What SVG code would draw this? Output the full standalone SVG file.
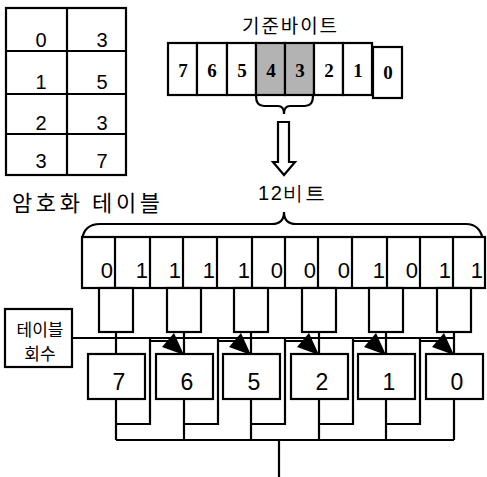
<svg xmlns="http://www.w3.org/2000/svg" width="487" height="477" viewBox="0 0 487 477">
<style>
.bx{fill:#fff;stroke:#000;stroke-width:2.2}
.sh{fill:#b3b3b3;stroke:#000;stroke-width:2.2}
.ln{fill:none;stroke:#000;stroke-width:2.2}
.ko{font-family:"Noto Sans CJK KR","Noto Sans",sans-serif;fill:#000}
.ar{font-family:"Liberation Sans",Arial,sans-serif;fill:#000}
.sf{font-family:"Liberation Serif","Times New Roman",serif;font-weight:bold;fill:#000;font-size:19px;text-anchor:middle}
</style>
<rect width="487" height="477" fill="#fff"/>

<g id="cipher-table">
<rect class="bx" x="6" y="8" width="120" height="167"/>
<line class="ln" x1="67" y1="8" x2="67" y2="175"/>
<line class="ln" x1="6" y1="51" x2="126" y2="51"/>
<line class="ln" x1="6" y1="94" x2="126" y2="94"/>
<line class="ln" x1="6" y1="134" x2="126" y2="134"/>
<g class="ar" font-size="20" text-anchor="middle">
<text x="41" y="47">0</text><text x="102" y="47">3</text>
<text x="41" y="89">1</text><text x="102" y="89">5</text>
<text x="41" y="130">2</text><text x="102" y="130">3</text>
<text x="41" y="168">3</text><text x="102" y="168">7</text>
</g>
<text class="ko" x="12" y="211" font-size="22" textLength="148" lengthAdjust="spacing">암호화 테이블</text>
</g>

<g id="base-byte">
<text class="ko" x="242" y="33" font-size="19" textLength="95" lengthAdjust="spacing">기준바이트</text>
<rect class="bx" x="168" y="43" width="29" height="52"/>
<rect class="bx" x="197" y="43" width="30" height="52"/>
<rect class="bx" x="227" y="43" width="29" height="52"/>
<rect class="sh" x="256" y="43" width="29" height="52"/>
<rect class="sh" x="285" y="43" width="29" height="52"/>
<rect class="bx" x="314" y="43" width="29" height="52"/>
<rect class="bx" x="343" y="43" width="29" height="52"/>
<rect class="bx" x="373" y="47" width="29" height="51"/>
<text class="sf" x="183" y="77">7</text>
<text class="sf" x="212" y="77">6</text>
<text class="sf" x="242" y="77">5</text>
<text class="sf" x="271" y="77">4</text>
<text class="sf" x="300" y="77">3</text>
<text class="sf" x="329" y="77">2</text>
<text class="sf" x="358" y="77">1</text>
<text class="sf" x="388" y="79">0</text>
<path class="ln" d="M256,96 Q256,106 264,106 L278,106 Q284,106 284,114 Q284,106 290,106 L305,106 Q313,106 313,96"/>
<path class="ln" d="M278,122 L289,122 L289,162 L295,162 L284,175 L273,162 L278,162 Z"/>
</g>

<g id="bits-12">
<text class="ar" x="258" y="200" font-size="20" textLength="67" lengthAdjust="spacing">12비트</text>
<path class="ln" d="M82,240 Q84,224 100,224 L272,224 Q284,224 284,212 Q284,224 296,224 L466,224 Q480,224 483,240"/>
<rect class="bx" x="82" y="237" width="403" height="51"/>
<g class="ln">
<line x1="115" y1="237" x2="115" y2="288"/><line x1="150" y1="237" x2="150" y2="288"/>
<line x1="183" y1="237" x2="183" y2="288"/><line x1="217" y1="237" x2="217" y2="288"/>
<line x1="252" y1="237" x2="252" y2="288"/><line x1="285" y1="237" x2="285" y2="288"/>
<line x1="318" y1="237" x2="318" y2="288"/><line x1="352" y1="237" x2="352" y2="288"/>
<line x1="387" y1="237" x2="387" y2="288"/><line x1="420" y1="237" x2="420" y2="288"/>
<line x1="453" y1="237" x2="453" y2="288"/>
</g>
<g class="ar" font-size="22" text-anchor="end">
<text x="113" y="278">0</text><text x="148" y="278">1</text><text x="181" y="278">1</text>
<text x="215" y="278">1</text><text x="250" y="278">1</text><text x="283" y="278">0</text>
<text x="316" y="278">0</text><text x="350" y="278">0</text><text x="385" y="278">1</text>
<text x="418" y="278">0</text><text x="451" y="278">1</text><text x="483" y="278">1</text>
</g>
</g>

<g id="selectors">
<rect class="bx" x="99" y="288" width="34" height="44"/>
<rect class="bx" x="167" y="288" width="34" height="44"/>
<rect class="bx" x="234" y="288" width="34" height="44"/>
<rect class="bx" x="302" y="288" width="34" height="44"/>
<rect class="bx" x="369" y="288" width="34" height="44"/>
<rect class="bx" x="437" y="288" width="34" height="44"/>
</g>

<g id="table-count">
<rect class="bx" x="5" y="309" width="67" height="58"/>
<text class="ko" x="40" y="336" font-size="17" text-anchor="middle">테이블</text>
<text class="ko" x="40" y="360" font-size="17" text-anchor="middle">회수</text>
</g>

<g id="outputs">
<rect class="bx" x="88" y="354" width="57" height="45"/>
<rect class="bx" x="156" y="354" width="57" height="45"/>
<rect class="bx" x="223" y="354" width="57" height="45"/>
<rect class="bx" x="291" y="354" width="57" height="45"/>
<rect class="bx" x="358" y="354" width="57" height="45"/>
<rect class="bx" x="426" y="354" width="57" height="45"/>
<g class="ar" font-size="23" text-anchor="middle">
<text x="119" y="390">7</text><text x="187" y="390">6</text><text x="254" y="390">5</text>
<text x="322" y="390">2</text><text x="389" y="390">1</text><text x="457" y="390">0</text>
</g>
</g>

<g id="connectors">
<line class="ln" x1="72" y1="338" x2="455" y2="338"/>
<g class="ln">
<line x1="116" y1="332" x2="116" y2="354"/>
<line x1="184" y1="332" x2="184" y2="354"/>
<line x1="251" y1="332" x2="251" y2="354"/>
<line x1="319" y1="332" x2="319" y2="354"/>
<line x1="386" y1="332" x2="386" y2="354"/>
<line x1="454" y1="332" x2="454" y2="354"/>
<path d="M150,341 L170,341 M218,341 L237,341 M285,341 L305,341 M353,341 L372,341 M420,341 L440,341"/>
<path d="M116,399 L116,440 M116,424 L150,424 L150,338"/>
<path d="M184,399 L184,424 L218,424 L218,338 M184,424 L184,440"/>
<path d="M251,399 L251,424 L285,424 L285,338 M251,424 L251,440"/>
<path d="M319,399 L319,424 L353,424 L353,338 M319,424 L319,440"/>
<path d="M386,399 L386,424 L420,424 L420,338 M386,424 L386,440"/>
<path d="M454,399 L454,440"/>
<path d="M116,440 L454,440 M279,440 L279,477"/>
</g>
<g fill="#000">
<polygon points="184,355 162,347 174,333"/>
<polygon points="251,355 229,347 241,333"/>
<polygon points="319,355 297,347 309,333"/>
<polygon points="386,355 364,347 376,333"/>
<polygon points="454,355 432,347 444,333"/>
</g>
</g>
</svg>
